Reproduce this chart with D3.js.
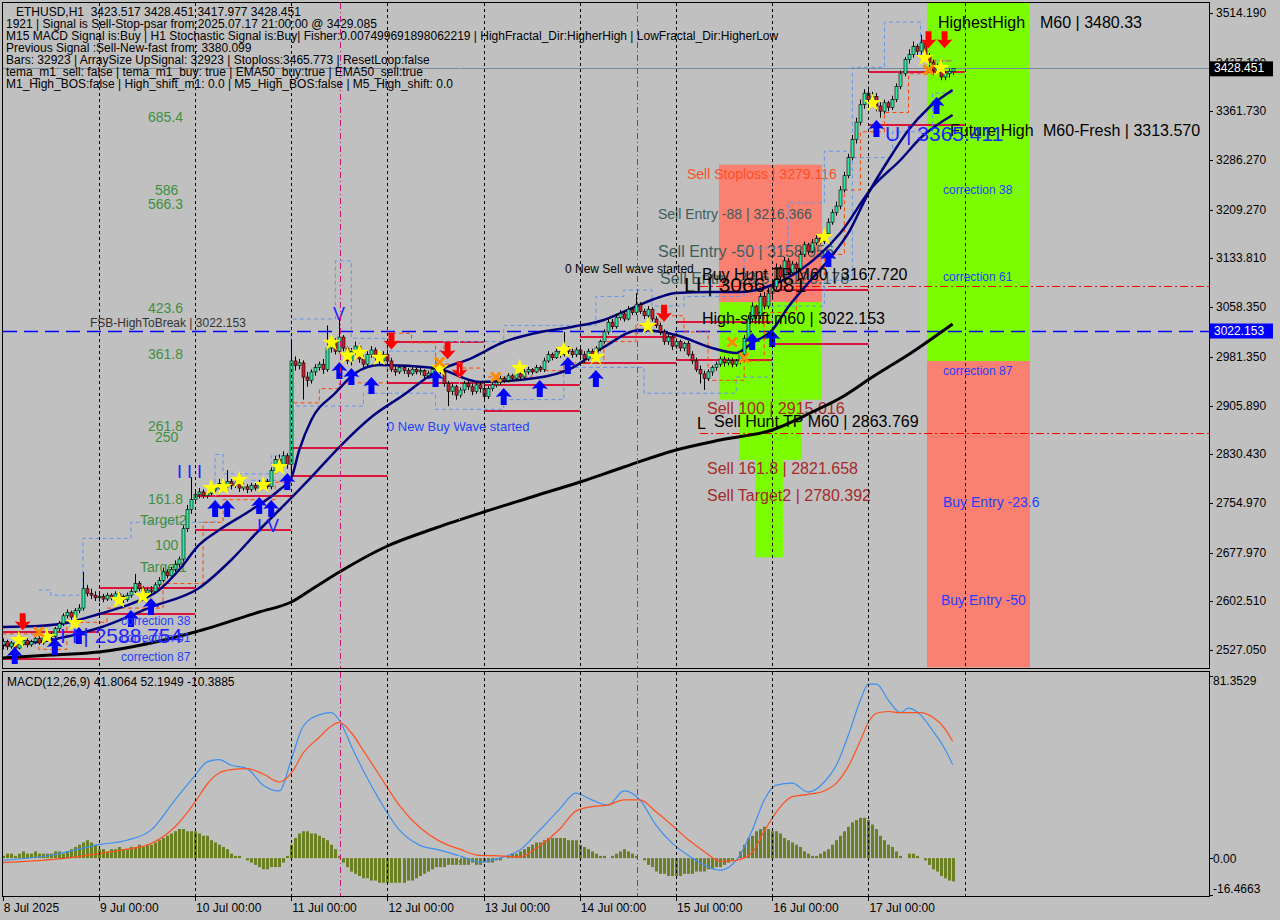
<!DOCTYPE html>
<html><head><meta charset="utf-8">
<script src="https://cdnjs.cloudflare.com/ajax/libs/d3/7.8.5/d3.min.js"></script>
<style>body{margin:0;background:#c0c0c0;}svg{display:block;}</style>
</head><body><svg id="c" width="1280" height="920"></svg>
<script>
// ---------- DATA ----------
const dayLabels = ["8 Jul 2025","9 Jul 00:00","10 Jul 00:00","11 Jul 00:00","12 Jul 00:00","13 Jul 00:00","14 Jul 00:00","15 Jul 00:00","16 Jul 00:00","17 Jul 00:00"];
const priceTicks = [3514.19,3437.19,3361.73,3286.27,3209.27,3133.81,3058.35,2981.35,2905.89,2830.43,2754.97,2677.97,2602.51,2527.05];
const opens = [
2535,2540,2532,2538,2530,2536,2542,2535,2540,2545,2538,2546,2552,2548,2560,2568,2580,2585,2578,2588,2592,2622,2615,2612,
2608,2610,2606,2612,2608,2614,2610,2605,2612,2618,2630,2622,2615,2620,2618,2628,2635,2648,2642,2652,2660,2668,2715,2745,
2760,2768,2772,2766,2770,2775,2778,2785,2780,2788,2782,2786,2778,2780,2776,2782,2778,2784,2788,2780,2805,2822,2815,2828,
2815,2975,2968,2972,2950,2945,2958,2965,2970,2962,2995,3005,2990,3012,2995,2975,2990,2998,2978,2970,2985,2992,2980,2975,
2985,2975,2962,2958,2965,2960,2955,2962,2958,2960,2952,2956,2962,2968,2958,2940,2928,2935,2922,2930,2940,2935,2928,2938,
2932,2920,2932,2938,2942,2948,2945,2952,2948,2955,2950,2958,2962,2958,2965,2962,2975,2985,2980,2990,2985,2995,2990,2985,
2992,2985,2978,2990,2982,2995,3005,3020,3035,3028,3042,3048,3040,3055,3050,3062,3052,3045,3055,3040,3030,3020,3005,3012,
2998,3005,2995,3002,2985,2975,2962,2955,2948,2958,2965,2970,2978,2972,2976,2970,2975,2985,3010,3040,3060,3045,3075,3060,
3080,3090,3120,3105,3130,3112,3125,3118,3140,3155,3145,3158,3165,3160,3172,3190,3205,3215,3240,3262,3290,3318,3345,3372,
3390,3378,3385,3370,3362,3375,3368,3380,3400,3420,3442,3450,3462,3455,3468,3448,3438,3425,3432,3415,3420,3423.517];
const highs = [
2545,2543,2541,2540,2540,2546,2545,2543,2550,2548,2549,2556,2556,2563,2572,2584,2590,2588,2592,2598,2648,2628,2622,2618,
2616,2614,2616,2615,2618,2617,2613,2616,2624,2645,2634,2626,2624,2626,2632,2640,2655,2652,2656,2666,2672,2720,2752,2795,
2775,2778,2776,2774,2780,2784,2792,2790,2806,2792,2791,2790,2786,2784,2786,2786,2790,2794,2792,2810,2828,2830,2835,2832,
3008,2982,2978,2976,2958,2962,2970,2974,2978,3030,3012,3010,3040,3015,2998,2995,3005,3002,2984,2990,2998,2996,2986,2990,
2992,2980,2966,2968,2968,2964,2966,2965,2964,2962,2960,2966,2972,2972,2962,2944,2940,2938,2934,2944,2945,2940,2942,2943,
2938,2936,2942,2946,2952,2951,2956,2955,2959,2957,2962,2966,2964,2969,2968,2980,2990,2988,2994,2992,3020,2998,2994,2996,
2996,2990,2994,2994,2998,3008,3024,3042,3040,3048,3054,3052,3060,3058,3080,3066,3056,3060,3058,3044,3034,3024,3016,3015,
3010,3008,3005,3006,2990,2980,2968,2960,2962,2968,2974,2982,2982,2980,2980,2978,2990,3015,3046,3066,3062,3080,3082,3088,
3098,3126,3124,3136,3134,3130,3128,3146,3160,3158,3164,3170,3168,3178,3196,3210,3222,3246,3268,3296,3325,3352,3380,3396,
3400,3392,3390,3376,3380,3378,3386,3405,3425,3446,3458,3470,3466,3480.33,3472,3452,3442,3436,3436,3424,3428,3428.451];
const lows = [
2528,2527,2529,2526,2528,2533,2531,2532,2536,2535,2535,2543,2544,2546,2556,2564,2576,2574,2575,2584,2588,2610,2606,2603,
2602,2601,2603,2604,2605,2606,2600,2602,2608,2615,2618,2610,2612,2613,2615,2625,2632,2638,2640,2648,2655,2664,2710,2738,
2755,2762,2762,2762,2766,2770,2775,2774,2778,2776,2778,2772,2774,2770,2772,2774,2775,2780,2776,2776,2800,2810,2810,2808,
2800,2960,2962,2915,2935,2940,2952,2960,2955,2958,2988,2985,2986,2990,2970,2968,2985,2972,2965,2966,2980,2975,2968,2970,
2970,2958,2952,2955,2955,2950,2952,2954,2953,2948,2948,2952,2958,2954,2935,2905,2922,2915,2918,2925,2930,2922,2924,2926,
2912,2916,2928,2934,2938,2941,2942,2945,2944,2946,2947,2954,2954,2956,2958,2958,2972,2976,2978,2980,2982,2986,2980,2981,
2980,2972,2975,2978,2979,2990,3002,3016,3024,3025,3038,3036,3038,3046,3046,3048,3040,3042,3036,3026,3015,3000,3000,2992,
2994,2990,2990,2982,2970,2958,2940,2930,2944,2952,2960,2966,2966,2968,2965,2966,2970,2980,3005,3035,3040,3040,3055,3056,
3074,3086,3100,3100,3108,3108,3114,3115,3136,3140,3142,3154,3156,3156,3168,3186,3200,3210,3236,3258,3286,3312,3340,3366,
3372,3370,3362,3352,3358,3362,3364,3376,3396,3416,3436,3445,3448,3450,3442,3430,3418,3420,3410,3410,3414,3417.977];
const closes = [
2540,2532,2538,2530,2536,2542,2535,2540,2545,2538,2546,2552,2548,2560,2568,2580,2585,2578,2588,2592,2622,2615,2612,2608,
2610,2606,2612,2608,2614,2610,2605,2612,2618,2630,2622,2615,2620,2618,2628,2635,2648,2642,2652,2660,2668,2715,2745,2760,
2768,2772,2766,2770,2775,2778,2785,2780,2788,2782,2786,2778,2780,2776,2782,2778,2784,2788,2780,2805,2822,2815,2828,2815,
2975,2968,2972,2950,2945,2958,2965,2970,2962,2995,3005,2990,3012,2995,2975,2990,2998,2978,2970,2985,2992,2980,2975,2985,
2975,2962,2958,2965,2960,2955,2962,2958,2960,2952,2956,2962,2968,2958,2940,2928,2935,2922,2930,2940,2935,2928,2938,2932,
2920,2932,2938,2942,2948,2945,2952,2948,2955,2950,2958,2962,2958,2965,2962,2975,2985,2980,2990,2985,2995,2990,2985,2992,
2985,2978,2990,2982,2995,3005,3020,3035,3028,3042,3048,3040,3055,3050,3062,3052,3045,3055,3040,3030,3020,3005,3012,2998,
3005,2995,3002,2985,2975,2962,2955,2948,2958,2965,2970,2978,2972,2976,2970,2975,2985,3010,3040,3060,3045,3075,3060,3080,
3090,3120,3105,3130,3112,3125,3118,3140,3155,3145,3158,3165,3160,3172,3190,3205,3215,3240,3262,3290,3318,3345,3372,3390,
3378,3385,3370,3362,3375,3368,3380,3400,3420,3442,3450,3462,3455,3468,3448,3438,3425,3432,3415,3420,3424,3428.451];
// moving averages: [bar index, price]
const emaSlowBlack = [[0,2514.6],[12,2519.3],[24,2523.9],[37,2537.9],[48,2554.9],[64,2585.9],[72,2601.4],[78,2624.7],[84,2647.9],[96,2688.2],[108,2716.1],[120,2740.9],[132,2764.2],[144,2787.4],[155,2810.6],[168,2837.0],[179,2852.5],[192,2868.0],[202,2895.9],[209,2917.5],[217,2950.1],[227,2988.9],[237,3032.2]];
const emaFastNavy = [[0,2562.7],[9,2564.3],[17,2570.5],[24,2582.8],[32,2598.4],[39,2620.0],[44,2651.0],[49,2689.8],[54,2713.0],[62,2744.0],[69,2775.0],[72,2793.6],[74,2837.0],[77,2883.5],[83,2925.3],[88,2956.3],[94,2968.7],[108,2964.0],[119,2942.4],[133,2948.5],[142,2964.0],[150,2996.6],[159,3022.9],[168,3015.2],[177,2995.0],[183,2987.3],[187,3002.8],[192,3022.9],[196,3058.6],[201,3095.8],[206,3131.4],[211,3173.3],[216,3235.2],[221,3286.4],[226,3332.9],[231,3367.0],[237,3394.9]];
const emaMidNavy = [[0,2534.8],[12,2542.5],[24,2561.1],[37,2593.6],[49,2623.1],[57,2666.5],[64,2713.0],[69,2744.0],[77,2795.1],[84,2841.6],[92,2888.1],[100,2922.2],[108,2957.9],[117,2979.5],[125,3004.3],[133,3018.3],[142,3027.6],[150,3038.5],[156,3054.0],[164,3074.1],[168,3080.3],[177,3081.8],[184,3081.8],[192,3092.7],[199,3116.0],[209,3173.3],[217,3244.5],[224,3286.4],[229,3320.5],[237,3356.1]];
const channelUpper = [[9,2620],[12,2612],[20,2700],[32,2725],[53,2830],[55,2800],[67,2828],[72,3040],[83,3130],[87,3010],[96,2990],[110,3005],[125,3030],[148,3075],[155,3085],[162,3060],[170,3075],[185,3150],[196,3220],[205,3300],[212,3430],[220,3500],[229,3440],[237,3440]];
const channelLower = [[62,2790],[72,2905],[90,2925],[108,2900],[125,2915],[140,2965],[160,2925],[183,2950],[192,3060],[205,3100],[212,3290],[222,3330],[232,3390],[237,3390]];
const trailStop = [[0,2552],[9,2528],[16,2570],[26,2592],[40,2630],[50,2725],[55,2760],[68,2787],[72,2910],[79,2932],[84,2941],[96,3018],[102,3003],[108,2970],[114,2964],[120,2950],[132,2960],[140,2972],[150,3005],[158,3030],[164,3045],[170,3020],[176,2945],[185,2975],[190,3050],[198,3100],[205,3140],[210,3240],[214,3330],[220,3360],[226,3420],[232,3440],[237,3440]];
// level segments [from bar, to bar, price]
const levelSegments = [[0,24,2554.9],[0,24,2513.1],[24,48,2623.1],[24,48,2582.8],[48,72,2765.7],[48,72,2713.0],[72,96,2840.1],[72,96,2796.7],[96,120,3004.3],[96,120,2940.8],[120,144,2937.7],[120,144,2897.4],[144,168,3012.1],[144,168,2971.8],[168,192,3035.3],[168,192,2976.4],[192,216,3084.9],[192,216,3001.3],[216,240,3422.8],[216,240,3340.6]];
const huntLevels = [3091.1, 2863.769];
const highToBreak = 3022.153;
const lastPrice = 3428.451;
// zones [from bar, to bar, price top, price bottom, kind]
const zones = [[178.7,204.4,3279.116,3066.081,"sell"],[178.7,204.4,3066.081,2915.016,"buy"],[183.7,199.4,2915.016,2821.658,"buy"],[187.7,194.7,2821.658,2670.6,"buy"],[230.6,256.3,3530,2974.9,"buy"],[230.6,256.3,2974.9,2500,"sell"]];
// signal markers [bar index, price]
const stars = [[4,2542.5],[11,2547.2],[18,2568.9],[29,2604.5],[35,2610.7],[52,2778.1],[55,2779.6],[59,2790.5],[65,2782.8],[69,2810.6],[82,3003.5],[86,2983.4],[89,2988.0],[94,2980.2],[109,2964.0],[129,2964.0],[140,2992.0],[148,2981.1],[161,3029.1],[205,3167.1],[217,3374.7],[230,3444.5],[234,3429.0]];
const arrowsUp = [[3,2531.7],[13,2545.6],[19,2562.7],[32,2589.0],[37,2607.6],[53,2759.5],[56,2759.5],[64,2764.2],[67,2759.5],[71,2801.3],[84,2973.3],[87,2964.0],[92,2950.1],[108,2961.0],[125,2933.1],[134,2945.5],[141,2981.1],[148,2961.0],[187,3018.3],[192,3022.9],[206,3147.0],[218,3348.4],[233,3384.0]];
const arrowsDown = [[5,2570],[97,3005],[111,2990],[114,2960],[165,3048],[231,3472],[235,3472]];
const crosses = [[9,2555],[109,2973],[123,2950],[182,3004],[185,2980],[231,3426]];
// MACD(12,26,9)
const macdHist = [1,2,2,1,2,3,2,2,3,2,2,2, 2,3,3,2,3,4,5,6,7,8,7,6, 4,4,3,4,4,5,4,4,5,5,6,5, 6,6,7,8,9,10,11,12,13,13,12,12,
12,11,10,10,8,7,6,5,4,2,1,1, 0,-1,-2,-3,-4,-5,-5,-4,-4,-4,-2,1, 6,9,11,12,12,11,11,10,9,8,6,4, 1,-2,-4,-6,-7,-8,-9,-9,-10,-10,-11,-11,
-11,-11,-11,-11,-11,-10,-10,-9,-8,-7,-6,-5, -4,-4,-4,-3,-3,-3,-3,-3,-3,-2,-3,-3, -2,-2,-2,-1,-1,0,1,2,2,3,4,5, 6,7,7,8,9,9,9,9,9,8,8,8,
6,5,4,3,2,1,1,0,1,2,3,4, 3,2,1,0,-1,-3,-4,-6,-7,-7,-8,-8, -8,-8,-7,-7,-7,-6,-6,-6,-5,-5,-4,-4, -3,-2,-1,0,3,6,9,10,12,13,14,13,
12,12,11,9,8,7,6,5,3,2,1,1, 2,3,4,6,8,10,12,14,16,17,18,18, 17,15,13,10,8,6,5,3,1,0,2,2, 1,0,-1,-3,-5,-6,-8,-9,-10,-10.3885];
const macdMain = [[0,-1],[12,1.3],[24,6],[31,8],[37,12.5],[43,26],[48,37],[51,43],[54,44],[57,41.5],[61,40],[65,32.6],[69,30],[72,44],[75,59],[79,64],[82,65],[84,61.6],[87,50],[90,39],[94,26],[99,12.5],[104,5.8],[109,3.6],[114,1],[119,-1.8],[124,0],[129,3.6],[134,12.5],[139,22],[143,29],[147,26],[151,23.7],[155,30],[159,26],[163,14.7],[167,6.7],[171,1.3],[175,-3],[179,-5.4],[183,-1],[187,12.5],[190,26],[193,32.6],[197,33.5],[201,29.5],[205,34],[208,41.5],[211,55],[214,70.5],[216,77.7],[218,77.7],[221,70.5],[224,65],[226,67],[229,64],[232,57],[235,49],[237,41.8064]];
const macdSignal = [[0,-2],[12,-0.7],[24,2],[31,4],[37,6.5],[43,14],[48,25],[51,33],[54,38],[57,39.5],[61,40],[65,37.6],[69,34],[72,38],[75,47],[79,54],[82,59],[84,60.6],[87,56],[90,48],[94,37],[99,23.5],[104,13.8],[109,7.6],[114,4],[119,1.2],[124,1],[129,0.6],[134,5.5],[139,13],[143,21],[147,23],[151,23.7],[155,26],[159,26],[163,20.7],[167,14.7],[171,8.3],[175,3],[179,-1.4],[183,-1],[187,2.5],[190,12],[193,20.6],[197,27.5],[201,28.5],[205,30],[208,33.5],[211,41],[214,52.5],[216,60.7],[218,64.7],[221,65.5],[224,65],[226,65],[229,65],[232,63],[235,58],[237,52.1949]];
const macdTicks = [81.3529, 0.00, -16.4663];
const infoLines = ["   ETHUSD,H1  3423.517 3428.451 3417.977 3428.451",
"1921 | Signal is Sell-Stop-psar from:2025.07.17 21:00:00 @ 3429.085",
"M15 MACD Signal is:Buy | H1 Stochastic Signal is:Buy| Fisher:0.007499691898062219 | HighFractal_Dir:HigherHigh | LowFractal_Dir:HigherLow",
"Previous Signal :Sell-New-fast from: 3380.099",
"Bars: 32923 | ArraySize UpSignal: 32923 | Stoploss:3465.773 | ResetLoop:false",
"tema_m1_sell: false | tema_m1_buy: true | EMA50_buy:true | EMA50_sell:true",
"M1_High_BOS:false | High_shift_m1: 0.0 | M5_High_BOS:false | M5_High_shift: 0.0"];
const fiboLabels = [["685.4",3353.0],["586",3240.0],["566.3",3218.5],["423.6",3056.5],["361.8",2985.5],["261.8",2874.0],["250",2857.0],["161.8",2760.5],["Target2",2728.0],["100",2689.0],["Target1",2656.0]];

// ---------- DRAW ----------
const svg = d3.select("#c");
const FONT = "Liberation Sans, Arial, sans-serif";
svg.append("rect").attr("width",1280).attr("height",920).attr("fill","#c0c0c0");
const xs = d3.scaleLinear().domain([0,240]).range([2.7, 2.7+4.008*240]);
const ys = d3.scaleLinear().domain([2527.05,3514.19]).range([650,13]);
const ym = d3.scaleLinear().domain([-16.4663,81.3529]).range([895,676]);
const defs = svg.append("defs");
defs.append("clipPath").attr("id","mc").append("rect").attr("x",3).attr("y",3).attr("width",1206).attr("height",665);
defs.append("clipPath").attr("id","dc").append("rect").attr("x",3).attr("y",673).attr("width",1206).attr("height",223);
const main = svg.append("g").attr("clip-path","url(#mc)");
const sub = svg.append("g").attr("clip-path","url(#dc)");

// zones
main.selectAll("rect.zone").data(zones).join("rect")
  .attr("x",d=>xs(d[0])).attr("width",d=>xs(d[1])-xs(d[0]))
  .attr("y",d=>ys(d[2])).attr("height",d=>ys(d[3])-ys(d[2]))
  .attr("fill",d=>d[4]==="sell"?"#fa8072":"#7cfc00");

// vertical separators
const seps = d3.range(1,11).map(k=>k*24);
[[3,668],[672,896]].forEach(([a,b])=>{
  svg.selectAll(null).data(seps).join("line")
    .attr("x1",d=>Math.round(xs(d))+0.5).attr("x2",d=>Math.round(xs(d))+0.5).attr("y1",a).attr("y2",b)
    .attr("stroke","#000").attr("stroke-dasharray","3,3");
  [[84.2,"#c8157a"],[158.2,"#c8157a"],[113.9,"#8fd3ea"]].forEach(([i,c])=>{
    svg.append("line").attr("x1",Math.round(xs(i))+0.5).attr("x2",Math.round(xs(i))+0.5).attr("y1",a).attr("y2",b)
      .attr("stroke",c).attr("stroke-dasharray","6,3,1,3");
  });
});

// text labels in zone behind candles
const txt=(g,x,y,s,size,color,anchor)=>g.append("text").attr("x",x).attr("y",y).text(s)
  .attr("font-family",FONT).attr("font-size",size).attr("fill",color).attr("text-anchor",anchor||"start");
txt(main,687,179,"Sell Stoploss | 3279.116",14,"#ff4f1f");
txt(main,658,219,"Sell Entry -88 | 3216.366",14,"#3d5c5c");
txt(main,658,257,"Sell Entry -50 | 3158.956",16,"#3d5c5c");
txt(main,660,284,"Sell Entry -23.6 | 3120.178",16,"#3d5c5c");
txt(main,707,414,"Sell 100 | 2915.016",16,"#a52a2a");
txt(main,707,474,"Sell 161.8 | 2821.658",16,"#a52a2a");
txt(main,707,501,"Sell Target2 | 2780.392",16,"#a52a2a");

// horizontal lines
main.append("line").attr("x1",3).attr("x2",1209).attr("y1",Math.round(ys(lastPrice))+0.5).attr("y2",Math.round(ys(lastPrice))+0.5).attr("stroke","#778899");
main.append("line").attr("x1",3).attr("x2",1209).attr("y1",Math.round(ys(highToBreak))+0.5).attr("y2",Math.round(ys(highToBreak))+0.5)
  .attr("stroke","#0000ff").attr("stroke-width",1.3).attr("stroke-dasharray","14,7");
main.selectAll("line.hunt").data(huntLevels).join("line")
  .attr("x1",xs(174)).attr("x2",1209).attr("y1",d=>Math.round(ys(d))+0.5).attr("y2",d=>Math.round(ys(d))+0.5)
  .attr("stroke","#ff0000").attr("stroke-dasharray","8,3,2,3");
main.selectAll("line.lvl").data(levelSegments).join("line")
  .attr("x1",d=>xs(d[0])).attr("x2",d=>xs(d[1])).attr("y1",d=>ys(d[2])).attr("y2",d=>ys(d[2]))
  .attr("stroke","#dc143c").attr("stroke-width",2);

// step lines
const step = d3.line().x(d=>xs(d[0])).y(d=>ys(d[1])).curve(d3.curveStepAfter);
main.append("path").attr("d",step(channelUpper)).attr("fill","none").attr("stroke","#6495ed").attr("stroke-dasharray","4,3");
main.append("path").attr("d",step(channelLower)).attr("fill","none").attr("stroke","#6495ed").attr("stroke-dasharray","4,3");
main.append("path").attr("d",step(trailStop)).attr("fill","none").attr("stroke","#ff4500").attr("stroke-dasharray","4,3");

// fibo labels
fiboLabels.forEach(([s,p])=>txt(main, s.length>5?140:(s.length===3?155:(s==="586"?163:148)), ys(p)+5, s, 14, "#3f8f3f"));

// moving averages
const curve = d3.line().x(d=>xs(d[0])).y(d=>ys(d[1])).curve(d3.curveMonotoneX);
main.append("path").attr("d",curve(emaSlowBlack)).attr("fill","none").attr("stroke","#000").attr("stroke-width",3);
main.append("path").attr("d",curve(emaMidNavy)).attr("fill","none").attr("stroke","#00007f").attr("stroke-width",2.5);
main.append("path").attr("d",curve(emaFastNavy)).attr("fill","none").attr("stroke","#00007f").attr("stroke-width",2.5);

// candles
const bars = closes.map((c,i)=>({i,o:opens[i],h:highs[i],l:lows[i],c}));
const cg = main.append("g");
cg.selectAll("line").data(bars).join("line")
  .attr("x1",d=>Math.round(xs(d.i))+0.5).attr("x2",d=>Math.round(xs(d.i))+0.5)
  .attr("y1",d=>ys(d.h)).attr("y2",d=>ys(d.l)).attr("stroke","#000");
cg.selectAll("rect").data(bars).join("rect")
  .attr("x",d=>Math.round(xs(d.i))-1).attr("width",3)
  .attr("y",d=>ys(Math.max(d.o,d.c))).attr("height",d=>Math.max(1,Math.abs(ys(d.o)-ys(d.c))))
  .attr("fill",d=>d.c>=d.o?"#2ee8a0":"#d02030").attr("stroke","#000").attr("stroke-width",0.6);

// markers
main.selectAll("path.star").data(stars).join("path")
  .attr("d",d3.symbol().type(d3.symbolStar).size(100)).attr("transform",d=>`translate(${xs(d[0])},${ys(d[1])})`).attr("fill","#ffff00");
main.selectAll("path.cross").data(crosses).join("path")
  .attr("d",d3.symbol().type(d3.symbolX).size(60)).attr("transform",d=>`translate(${xs(d[0])},${ys(d[1])})`)
  .attr("stroke","#ff8c00").attr("stroke-width",3).attr("fill","none");
main.selectAll("path.up").data(arrowsUp).join("path")
  .attr("d","M0,0 L8,9 L3,8 L3,17 L-3,17 L-3,8 L-8,9 Z").attr("transform",d=>`translate(${xs(d[0])},${ys(d[1])})`).attr("fill","#0000ff");
main.selectAll("path.dn").data(arrowsDown).join("path")
  .attr("d","M0,0 L8,-9 L3,-8 L3,-17 L-3,-17 L-3,-8 L-8,-9 Z").attr("transform",d=>`translate(${xs(d[0])},${ys(d[1])+8})`).attr("fill","#ff0000");

// annotation texts
infoLines.forEach((s,k)=>txt(svg,6,16+k*12,s,12,"#000").attr("xml:space","preserve").style("white-space","pre"));
txt(main,90,327,"FSB-HighToBreak | 3022.153",12,"#333");
txt(main,387,431,"0 New Buy Wave started",13,"#1f3fff");
txt(main,565,273,"0 New Sell wave started",12,"#000");
txt(main,121,625,"correction 38",12,"#1f3fff");
txt(main,121,642,"correction 61",12,"#1f3fff");
txt(main,121,661,"correction 87",12,"#1f3fff");
txt(main,60,643,"I I | 2588.754",21,"#1f1fff");
txt(main,177,478,"I I I",18,"#1f1fff");
txt(main,257,532,"I V",18,"#1f1fff");
txt(main,333,320,"V",18,"#1f1fff");
txt(main,702,280,"Buy Hunt TP M60 | 3167.720",16,"#000");
txt(main,702,324,"High-shift m60 | 3022.153",16,"#000");
txt(main,697,429,"L",16,"#000");
txt(main,714,427,"Sell Hunt TP M60 | 2863.769",16,"#000");
txt(main,684,292,"LI | 3066.081",21,"#000");
txt(main,938,28,"HighestHigh",16,"#000");
txt(main,1040,28,"M60 | 3480.33",16,"#000");
txt(main,950,136,"Future High",16,"#000");
txt(main,1043,136,"M60-Fresh | 3313.570",16,"#000");
txt(main,885,141,"U | 3365.411",21,"#1f1fff");
txt(main,943,194,"correction 38",12,"#1f3fff");
txt(main,943,281,"correction 61",12,"#1f3fff");
txt(main,943,375,"correction 87",12,"#1f3fff");
txt(main,943,507,"Buy Entry -23.6",14,"#1f3fff");
txt(main,941,605,"Buy Entry -50",14,"#1f3fff");

// right axis
svg.selectAll("line.pt").data(priceTicks).join("line")
  .attr("x1",1209).attr("x2",1213).attr("y1",d=>Math.round(ys(d))+0.5).attr("y2",d=>Math.round(ys(d))+0.5).attr("stroke","#000");
svg.selectAll("text.pt").data(priceTicks).join("text")
  .attr("x",1216).attr("y",d=>ys(d)+4).text(d=>d3.format(".3f")(d))
  .attr("font-family",FONT).attr("font-size",12).attr("fill","#000");
[[lastPrice,"#000"],[highToBreak,"#0000ff"]].forEach(([p,c])=>{
  svg.append("rect").attr("x",1210).attr("y",ys(p)-7).attr("width",63).attr("height",15).attr("fill",c);
  svg.append("text").attr("x",1214).attr("y",ys(p)+4).text(d3.format(".3f")(p)).attr("font-family",FONT).attr("font-size",12).attr("fill","#fff");
});

// MACD panel
sub.selectAll("rect").data(macdHist).join("rect")
  .attr("x",(d,i)=>Math.round(xs(i))-1).attr("width",3)
  .attr("y",d=>Math.min(ym(d),ym(0))).attr("height",d=>Math.abs(ym(d)-ym(0)))
  .attr("fill","#6b8023");
const mline = d3.line().x(d=>xs(d[0])).y(d=>ym(d[1])).curve(d3.curveMonotoneX);
sub.append("path").attr("d",mline(macdMain)).attr("fill","none").attr("stroke","#3c8ff0").attr("stroke-width",1.2);
sub.append("path").attr("d",mline(macdSignal)).attr("fill","none").attr("stroke","#ff5020").attr("stroke-width",1.2);
txt(svg,7,686,"MACD(12,26,9) 41.8064 52.1949 -10.3885",12,"#000");
const macdLabelY = [681,859,889];
macdTicks.forEach((v,k)=>{
  svg.append("line").attr("x1",1209).attr("x2",1213).attr("y1",Math.round(ym(v))+0.5).attr("y2",Math.round(ym(v))+0.5).attr("stroke","#000");
  txt(svg,1213,macdLabelY[k]+4,v===0?"0.00":String(v),12,"#000");
});

// panel borders
svg.append("rect").attr("x",2.5).attr("y",2.5).attr("width",1207).attr("height",666).attr("fill","none").attr("stroke","#000");
svg.append("rect").attr("x",2.5).attr("y",671.5).attr("width",1207).attr("height",225).attr("fill","none").attr("stroke","#000");

// bottom axis
const dayBars = d3.range(0,10).map(k=>k*24);
svg.selectAll("line.xt").data(dayBars).join("line")
  .attr("x1",d=>Math.round(xs(d))+0.5).attr("x2",d=>Math.round(xs(d))+0.5).attr("y1",897).attr("y2",901).attr("stroke","#000");
svg.selectAll("text.xt").data(dayBars).join("text")
  .attr("x",d=>xs(d)+1).attr("y",912).text((d,k)=>dayLabels[k])
  .attr("font-family",FONT).attr("font-size",12).attr("fill","#000");
</script></body></html>
